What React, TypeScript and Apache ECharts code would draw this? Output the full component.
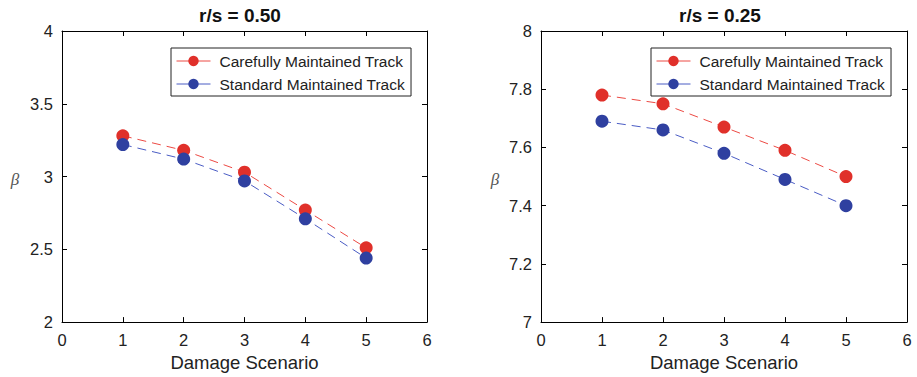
import React, { useEffect, useRef } from "react";
import * as echarts from "echarts";

const scenarios = [1, 2, 3, 4, 5];
const careful050 = [3.28, 3.18, 3.03, 2.77, 2.51];
const standard050 = [3.22, 3.12, 2.97, 2.71, 2.44];
const careful025 = [7.78, 7.75, 7.67, 7.59, 7.5];
const standard025 = [7.69, 7.66, 7.58, 7.49, 7.4];
const titles = ["r/s = 0.50", "r/s = 0.25"];
const seriesNames = ["Carefully Maintained Track", "Standard Maintained Track"];
const xTicks = [0, 1, 2, 3, 4, 5, 6];

const RED = "#e0302a";
const BLUE = "#2f40a0";
const RED_LINE = "#ec4a44";
const BLUE_LINE = "#4a5cc4";
const FONT = "Liberation Sans, Arial, sans-serif";

export default function App() {
  const ref = useRef<HTMLDivElement>(null);
  useEffect(() => {
    const chart = echarts.init(ref.current!, null, { renderer: "svg" });
    const grids = [
      { left: 62, top: 31, width: 365, height: 295 },
      { left: 541, top: 31, width: 366, height: 295 },
    ];
    const yRanges = [
      { min: 2, max: 4, interval: 0.5 },
      { min: 7, max: 8, interval: 0.2 },
    ];
    const xAxes: any[] = [];
    const yAxes: any[] = [];
    grids.forEach((_, i) => {
      const common = {
        type: "value",
        gridIndex: i,
        min: xTicks[0],
        max: xTicks[xTicks.length - 1],
        interval: 1,
        splitLine: { show: false },
        axisLine: { show: true, onZero: false, lineStyle: { color: "#000", width: 1 } },
        axisTick: { show: true, inside: true, length: 5, lineStyle: { color: "#000" } },
      };
      xAxes.push({
        ...common,
        position: "bottom",
        name: "Damage Scenario",
        nameLocation: "middle",
        nameGap: 30,
        nameTextStyle: { fontSize: 18.5, color: "#222", fontFamily: FONT },
        axisLabel: { fontSize: 16.5, color: "#222", margin: 9, fontFamily: FONT },
      });
      xAxes.push({ ...common, position: "top", axisLabel: { show: false } });
      const yc = {
        type: "value",
        gridIndex: i,
        min: yRanges[i].min,
        max: yRanges[i].max,
        interval: yRanges[i].interval,
        splitLine: { show: false },
        axisLine: { show: true, onZero: false, lineStyle: { color: "#000", width: 1 } },
        axisTick: { show: true, inside: true, length: 5, lineStyle: { color: "#000" } },
      };
      yAxes.push({
        ...yc,
        position: "left",
        axisLabel: {
          fontSize: 16.5,
          color: "#222",
          margin: 9,
          fontFamily: FONT,
          formatter: (v: number) => String(parseFloat(v.toFixed(2))),
        },
      });
      yAxes.push({ ...yc, position: "right", axisLabel: { show: false } });
    });

    const mk = (name: string, vals: number[], gi: number, color: string, lineColor: string) => ({
      type: "line",
      name,
      xAxisIndex: gi * 2,
      yAxisIndex: gi * 2,
      data: scenarios.map((x, k) => [x, vals[k]]),
      symbol: "circle",
      symbolSize: 13,
      itemStyle: { color },
      lineStyle: { color: lineColor, width: 1, type: [9, 6] },
      z: 3,
    });

    const series = [
      mk(seriesNames[0], careful050, 0, RED, RED_LINE),
      mk(seriesNames[1], standard050, 0, BLUE, BLUE_LINE),
      mk(seriesNames[0], careful025, 1, RED, RED_LINE),
      mk(seriesNames[1], standard025, 1, BLUE, BLUE_LINE),
    ];

    const legendLefts = [171, 651];
    const legend = legendLefts.map((l) => ({
      left: l,
      top: 48,
      orient: "vertical",
      data: seriesNames,
      itemWidth: 34,
      itemHeight: 13,
      itemGap: 7,
      padding: [5, 6, 4, 5],
      borderColor: "#222",
      borderWidth: 1,
      backgroundColor: "#fff",
      selectedMode: false,
      lineStyle: { type: "solid", width: 1 },
      textStyle: { fontSize: 15.5, color: "#222", fontFamily: FONT, padding: [0, 0, 0, 4] },
    }));

    const titleCenters = [240, 720];
    const betaX = [15, 495];
    const graphic: any[] = [];
    titles.forEach((t, i) => {
      graphic.push({
        type: "text",
        x: titleCenters[i],
        y: 15,
        style: {
          text: t,
          fontSize: 19,
          fontWeight: "bold",
          fill: "#111",
          fontFamily: FONT,
          textAlign: "center",
          textVerticalAlign: "middle",
        },
      });
      graphic.push({
        type: "text",
        x: betaX[i],
        y: 179,
        style: {
          text: "β",
          fontSize: 17,
          fontStyle: "italic",
          fill: "#555",
          fontFamily: "Liberation Serif, Times New Roman, serif",
          textAlign: "center",
          textVerticalAlign: "middle",
        },
      });
    });

    chart.setOption({
      animation: false,
      backgroundColor: "#fff",
      grid: grids,
      xAxis: xAxes,
      yAxis: yAxes,
      legend,
      series,
      graphic,
    });
    return () => chart.dispose();
  }, []);
  return (
    <div
      ref={ref}
      style={{ position: "fixed", left: 0, top: 0, width: 917, height: 377 }}
    />
  );
}
